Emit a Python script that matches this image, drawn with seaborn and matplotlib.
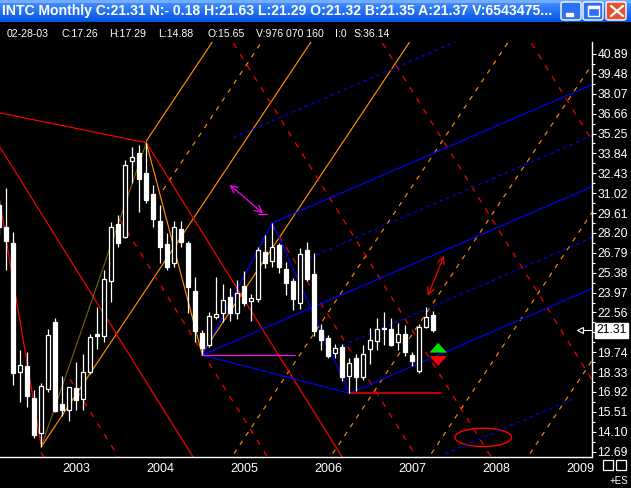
import matplotlib
matplotlib.use("Agg")
import matplotlib.pyplot as plt
import matplotlib.font_manager as fm
import numpy as np
import pandas as pd
import seaborn as sns
from matplotlib.patches import Ellipse, Rectangle, FancyBboxPatch

# monthly bars Apr 2002 .. Jun 2007, month index 0 = Jan 2003
months = list(range(-9, 54))
opens = [30.20, 28.64, 27.47, 18.36, 18.76, 16.47, 14.03, 17.11, 21.90,
         16.07, 15.65, 17.18, 16.40, 18.36, 21.03, 20.89, 24.82, 28.83, 27.89, 33.32, 33.85,
         32.47, 30.96, 29.07, 27.42, 26.05, 28.45, 27.47, 24.06, 21.08, 20.25, 22.22, 22.50,
         23.67, 22.50, 24.42, 23.37, 23.51, 26.87, 26.23, 27.35, 25.64, 24.81, 23.21, 26.99,
         25.29, 21.32, 20.73, 19.71, 20.13, 18.08, 19.31, 18.00, 19.95, 20.56, 21.36, 21.36,
         20.49, 21.03, 19.54, 18.43, 21.55, 22.38]
highs = [30.60, 31.39, 28.29, 19.90, 19.73, 17.06, 17.53, 21.36, 22.14,
         18.05, 17.29, 19.07, 19.61, 21.03, 22.92, 25.57, 29.00, 29.47, 33.37, 34.30, 34.44,
         34.60, 31.60, 30.18, 28.20, 29.07, 29.07, 27.60, 25.10, 21.32, 22.61, 25.05, 24.58,
         24.27, 24.86, 25.52, 23.90, 27.20, 28.05, 28.93, 27.50, 26.16, 25.00, 27.10, 27.54,
         26.75, 21.74, 20.95, 20.32, 20.30, 19.35, 19.60, 20.25, 21.47, 22.18, 22.60, 22.14,
         21.80, 21.64, 19.78, 21.74, 22.93, 22.68]
lows = [28.00, 25.57, 17.42, 16.23, 15.88, 13.63, 13.04, 16.94, 15.50,
        15.22, 14.88, 15.64, 15.64, 18.20, 19.98, 20.49, 23.32, 27.22, 27.82, 31.76, 29.71,
        30.34, 28.64, 26.05, 25.60, 25.76, 27.18, 22.50, 20.49, 19.54, 20.13, 22.10, 21.90,
        21.98, 22.10, 23.00, 21.98, 23.30, 25.69, 25.80, 25.34, 23.80, 22.73, 22.78, 24.81,
        20.90, 19.90, 19.31, 19.31, 17.70, 16.83, 17.00, 17.80, 18.90, 19.90, 20.27, 20.18,
        19.90, 19.50, 18.76, 18.28, 21.45, 21.20]
closes = [28.62, 27.65, 18.29, 18.83, 16.64, 13.87, 17.34, 20.96, 15.59,
          15.64, 17.26, 16.35, 18.36, 20.84, 20.89, 24.91, 28.60, 27.51, 33.02, 33.56, 32.02,
          30.53, 29.20, 27.22, 25.76, 28.60, 27.58, 24.39, 21.27, 20.02, 22.31, 22.43, 23.44,
          22.50, 23.96, 23.25, 23.56, 26.99, 26.05, 27.18, 25.80, 24.67, 23.51, 26.71, 24.93,
          21.27, 20.60, 19.47, 20.02, 17.96, 19.00, 18.01, 19.61, 20.61, 21.36, 21.43, 20.25,
          21.03, 19.78, 19.14, 21.50, 22.22, 21.31]

price_ticks = [12.69, 14.10, 15.51, 16.92, 18.33, 19.74, 21.15, 22.56, 23.97, 25.38, 26.79,
               28.20, 29.61, 31.02, 32.43, 33.84, 35.25, 36.66, 38.07, 39.48, 40.89]
year_ticks = [0, 12, 24, 36, 48, 60, 72]
year_labels = ['2003', '2004', '2005', '2006', '2007', '2008', '2009']
last_price = 21.31

# swing pivots (month, price) and the colour of the leg that ends at each one
pivot_m = [-9, -3, 12, 20, 30, 41]
pivot_p = [30.60, 13.04, 34.60, 19.54, 28.93, 16.83]
leg_colors = ['#ff0000', '#00a000', '#ff8c00', '#0000ff', '#0000ff']

# red line from the left into the 2004 top
top_line_m = [-9, 12]
top_line_p = [36.72, 34.60]

# orange parallels through the Oct-02 low: (offset, start month)
orange_slope, orange_step = 0.745, 10.5
orange_solid = [(-1, 12), (0, -3), (1, 20)]
orange_dashed = [(2, -20), (3, -20), (4, -20), (5, -20), (-0.5, 14.4)]

# red parallels through the Jan-04 top: (offset, start month)
red_slope, red_step = -0.797, 16.97
red_solid = [(-1, -20), (0, 12), (-2, -3)]
red_dashed = [(-1.5, 1.1), (-0.5, 8.2), (0.5, 30), (1, -20), (2, -20), (3, -20)]

# blue channel through the Sep-04 low: (offset, start month, end month)
blue_slope, blue_step = 0.2145, 7.23
blue_solid = [(1, 30, 80), (0, 20, 80), (-1, 41, 80)]
blue_dashed = [(0.5, 34.4, 80), (-0.5, 40, 80), (2, 24.4, 80), (-2, 54.7, 72.8)]

W, H = 631, 488


def px(x, y):
    return x / W, 1 - y / H


sns.set_style('dark', {'axes.facecolor': 'black', 'figure.facecolor': 'black'})
plt.rcParams['font.family'] = ['Liberation Sans', 'DejaVu Sans']
names = {f.name for f in fm.fontManager.ttflist}
narrow = 'Liberation Sans Narrow' if 'Liberation Sans Narrow' in names else 'Liberation Sans'
info_size = 8.2 if narrow == 'Liberation Sans Narrow' else 7.6

fig = plt.figure(figsize=(W / 100, H / 100), dpi=100, facecolor='black')
ax = fig.add_axes([0, 31 / H, 591.5 / W, 415 / H])
ax.set_facecolor('black')
ax.set_xlim(-8.9, 75.6)
ax.set_ylim(12.31, 41.74)
ax.grid(False)

lw = 0.85


def family(base_m, base_p, slope, step, off, m0, m1, **kw):
    m = np.array([m0, m1], dtype=float)
    ax.plot(m, base_p + slope * (m - base_m) + step * off, lw=lw, **kw)


# orange fan (up-right)
for off, m0 in orange_solid:
    family(-3, 13.04, orange_slope, -orange_step, off, m0, 80, color='#ff8c00')
for off, m0 in orange_dashed:
    family(-3, 13.04, orange_slope, -orange_step, off, m0, 80, color='#ff8c00', ls=(0, (4, 5)))

# red fan (down-right)
for off, m0 in red_solid:
    family(12, 34.6, red_slope, red_step, off, m0, 80, color='#ff0000')
for off, m0 in red_dashed:
    family(12, 34.6, red_slope, red_step, off, m0, 80, color='#ff0000', ls=(0, (5, 6)))
ax.plot(top_line_m, top_line_p, color='#ff0000', lw=lw)

# blue channel
for off, m0, m1 in blue_solid:
    family(20, 19.54, blue_slope, blue_step, off, m0, m1, color='#0000ff')
for off, m0, m1 in blue_dashed:
    family(20, 19.54, blue_slope, blue_step, off, m0, m1, color='#0000ff', ls=(0, (3, 3)))
ax.plot([pivot_m[3], pivot_m[5]], [pivot_p[3], pivot_p[5]], color='#0000ff', lw=lw)

# zigzag legs
for i, col in enumerate(leg_colors):
    seg = pd.DataFrame({'m': pivot_m[i:i + 2], 'p': pivot_p[i:i + 2]})
    if col == '#00a000':
        sns.lineplot(data=seg, x='m', y='p', ax=ax, color='#ff2000', lw=lw, ls=(0, (2, 2)))
        sns.lineplot(data=seg, x='m', y='p', ax=ax, color=col, lw=lw, ls=(2, (2, 2)))
    else:
        sns.lineplot(data=seg, x='m', y='p', ax=ax, color=col, lw=lw)

# horizontal marks at the Sep-04 and Jun-06 lows
ax.plot([20, 33.2], [19.54, 19.54], color='#ff00ff', lw=lw)
ax.plot([41, 54.1], [16.83, 16.83], color='#ff0000', lw=1.1)

# annotations
ax.annotate('', xy=(23.6, 31.74), xytext=(28.96, 29.47),
            arrowprops=dict(arrowstyle='<->,head_length=0.5,head_width=0.25', color='#ff00ff', lw=lw))
ax.plot([27.9, 29.3], [29.53, 29.53], color='#ff00ff', lw=lw)
ax.annotate('', xy=(52.06, 23.56), xytext=(54.67, 26.76),
            arrowprops=dict(arrowstyle='<->,head_length=0.5,head_width=0.25', color='#ff0000', lw=lw))
ax.annotate('', xy=(53.7, 20.60), xytext=(53.7, 19.56),
            arrowprops=dict(arrowstyle='simple,head_width=0.9,head_length=0.5,tail_width=0.45',
                            color='#00e000', lw=0, mutation_scale=14))
ax.annotate('', xy=(53.7, 18.58), xytext=(53.7, 19.56),
            arrowprops=dict(arrowstyle='simple,head_width=0.9,head_length=0.5,tail_width=0.45',
                            color='#ff0000', lw=0, mutation_scale=14))
ax.add_patch(Ellipse((60.14, 13.70), 8.1, 1.30, fill=False, edgecolor='#ff0000', lw=1.0))

# candles
bars = pd.DataFrame({'m': months, 'o': opens, 'h': highs, 'l': lows, 'c': closes})
up = bars.c >= bars.o
ax.vlines(bars.m, bars.l, bars.h, color='white', lw=0.9, zorder=5)
ax.bar(bars.m, (bars.c - bars.o).abs().clip(lower=0.05), bottom=np.minimum(bars.o, bars.c),
       width=0.58, color=np.where(up, 'black', 'white'), edgecolor='white', linewidth=0.9, zorder=6)

# last price marker
ax.plot([74.2, 75.6], [last_price, last_price], color='white', lw=0.8, clip_on=False, zorder=7)
ax.plot([73.9], [last_price], marker='<', ms=5, mfc='black', mec='white', mew=0.8, clip_on=False, zorder=8)

# axes
for s in ['left', 'top']:
    ax.spines[s].set_visible(False)
for s in ['right', 'bottom']:
    ax.spines[s].set_color('white')
    ax.spines[s].set_linewidth(1.0)
ax.yaxis.tick_right()
ax.set_yticks(price_ticks)
ax.set_yticklabels(['' if abs(v - 21.15) < 0.01 else f'{v:.2f}' for v in price_ticks])
ax.set_yticks(list((np.array(price_ticks[:-1]) + np.array(price_ticks[1:])) / 2), minor=True)
ax.tick_params(axis='y', which='major', colors='white', direction='out', length=3,
               width=0.8, labelsize=8.8, pad=1.2)
ax.tick_params(axis='y', which='minor', colors='white', direction='out', length=1.8, width=0.8)
ax.set_xticks(year_ticks)
ax.set_xticklabels(year_labels)
ax.tick_params(axis='x', colors='white', direction='out', length=3, width=0.8, labelsize=9.0, pad=1)
for lab in ax.get_xticklabels():
    lab.set_ha('left')
ax.set_xlabel('')
ax.set_ylabel('')
ax.text(1.0 + 5 / 591.5, last_price, '21.31', transform=ax.get_yaxis_transform(), color='black',
        fontsize=8.8, va='center', ha='left', clip_on=False, zorder=9,
        bbox=dict(boxstyle='square,pad=0.12', fc='white', ec='white'))

# title bar with gradient
gax = fig.add_axes([0, 1 - 22 / H, 1, 22 / H])
grad = np.linspace(0, 1, 22).reshape(-1, 1)
top_c = np.array([0.30, 0.58, 1.0])
mid_c = np.array([0.0, 0.33, 0.90])
img = (top_c * (1 - grad[..., None]) + mid_c * grad[..., None]) * np.ones((1, 2, 1))
img[:3] = np.array([0.45, 0.68, 1.0])
gax.imshow(img, aspect='auto', extent=[0, 1, 0, 1])
gax.set_axis_off()

fig.text(*px(2, 11), 'INTC Monthly C:21.31 N:- 0.18 H:21.63 L:21.29 O:21.32 B:21.35 A:21.37 V:6543475...',
         color='white', fontsize=10.1, fontweight='bold', va='center', ha='left', zorder=10)

for x0, fc in [(561, '#2b6ff2'), (583, '#2b6ff2'), (606, '#e2552e')]:
    fig.patches.append(FancyBboxPatch(px(x0, 20), 20 / W, 18 / H, boxstyle='round,pad=0,rounding_size=0.004',
                                      transform=fig.transFigure, fc=fc, ec='white', lw=1.0, zorder=11))
fig.patches.append(Rectangle(px(566, 16), 7 / W, 3 / H, transform=fig.transFigure, fc='white', zorder=12))
fig.patches.append(Rectangle(px(588, 16), 11 / W, 10 / H, transform=fig.transFigure, fc='none',
                             ec='white', lw=1.0, zorder=12))
fig.patches.append(Rectangle(px(588, 8), 11 / W, 2 / H, transform=fig.transFigure, fc='white', zorder=12))
fig.lines.append(plt.Line2D([611 / W, 623 / W], [1 - 6 / H, 1 - 16 / H], transform=fig.transFigure,
                            color='white', lw=1.6, zorder=12))
fig.lines.append(plt.Line2D([611 / W, 623 / W], [1 - 16 / H, 1 - 6 / H], transform=fig.transFigure,
                            color='white', lw=1.6, zorder=12))

# info row
info = [(7, '02-28-03'), (61, 'C:17.26'), (109, 'H:17.29'), (158, 'L:14.88'), (208, 'O:15.65'),
        (256, 'V:976 070 160'), (335, 'I:0'), (353, 'S:36.14')]
for x0, s in info:
    fig.text(*px(x0, 34), s, color='white', fontsize=info_size, family=[narrow, 'DejaVu Sans'],
             va='center', ha='left')

# bottom-right widgets
for x0 in [603, 616]:
    fig.patches.append(Rectangle(px(x0, 470), 10 / W, 10 / H, transform=fig.transFigure, fc='none',
                                 ec='white', lw=0.9))
fig.text(*px(610, 481), '+ES', color='white', fontsize=7.0, va='center', ha='left')

fig.savefig('out.png', dpi=100, facecolor='black')
